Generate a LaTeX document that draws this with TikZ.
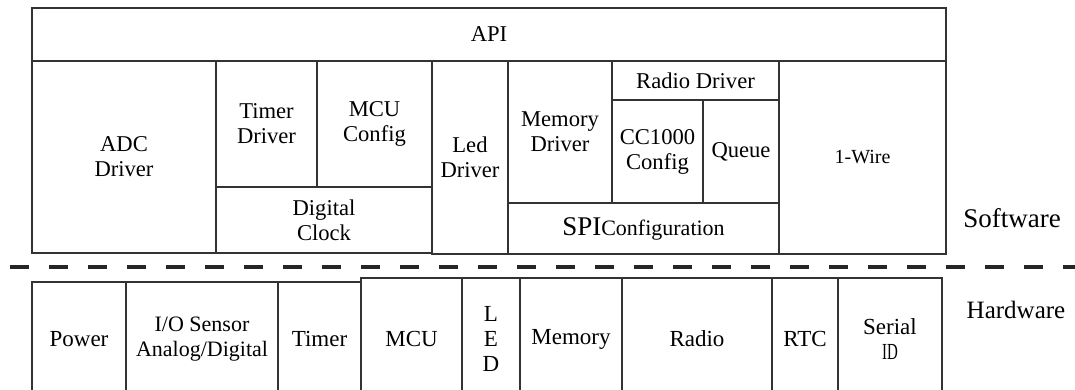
\documentclass[tikz,border=0pt]{standalone}
\usepackage{fontspec}
\setmainfont{Liberation Serif}
\usepackage{graphicx}

\tikzset{
  blk/.style={draw=black!80, line width=0.6pt, align=center, inner sep=0pt,
    font=\fontsize{11.3}{12.5}\selectfont},
  hwblk/.style={blk, font=\fontsize{11.5}{12.5}\selectfont},
  layer/.style={font=\fontsize{13.5}{14}\selectfont},
}

\begin{document}
\begin{tikzpicture}[x=0.5pt, y=-0.5pt]
\useasboundingbox (0,0) rectangle (1075,390);
\clip (0,0) rectangle (1075,390);

% software
\node[blk, minimum width=457pt, minimum height=26.5pt] (api) at (489,34.5) {API};
\node[blk, minimum width=92pt, minimum height=96pt] (adc) at (124,157) {ADC\\Driver};
\node[blk, minimum width=50.5pt, minimum height=63pt] (timerdrv) at (266.5,124) {Timer\\Driver};
\node[blk, minimum width=57.5pt, minimum height=63pt] (mcucfg) at (374.5,124) {MCU\\Config};
\node[blk, minimum width=108pt, minimum height=33pt] (dclock) at (324,220) {Digital\\Clock};
\node[blk, minimum width=38pt, minimum height=96.5pt] (leddrv) at (470,157.5) {Led\\Driver};
\node[blk, minimum width=52pt, minimum height=71pt] (memdrv) at (560,132) {Memory\\Driver};
\node[blk, minimum width=83.5pt, minimum height=19.5pt] (radiodrv) at (695.5,80.5) {Radio Driver};
\node[blk, minimum width=45.5pt, minimum height=51.5pt] (cc) at (657.5,151.5) {CC1000\\Config};
\node[blk, minimum width=38pt, minimum height=51.5pt] (queue) at (741,151.5) {Queue};
\node[blk, font=\fontsize{11}{12.5}\selectfont, minimum width=135.5pt, minimum height=25.5pt] (spi) at (643.5,228.5)
  {{\fontsize{13.5}{14}\selectfont SPI}Configuration};
\node[blk, font=\fontsize{10}{12}\selectfont, minimum width=83.5pt, minimum height=96.5pt] (onewire) at (862.5,157.5) {1-Wire};

\node[layer] (sw) at (1012,218) {Software};

% separator
\coordinate (sepL) at (10,267);
\coordinate (sepR) at (1075,267);
\draw[line width=1.7pt, black!85, dash pattern=on 9.3pt off 10.2pt] (sepL) -- (sepR);

% hardware
\node[hwblk, minimum width=47pt, minimum height=57pt] (power) at (79,339) {Power};
\node[hwblk, font=\fontsize{11}{12.5}\selectfont, minimum width=76pt, minimum height=57pt] (iosens) at (202,339) {I/O Sensor\\Analog/Digital};
\node[hwblk, minimum width=41.5pt, minimum height=57pt] (timer) at (319.5,339) {Timer};
\node[hwblk, minimum width=50.5pt, minimum height=61pt] (mcu) at (411.5,339) {MCU};
\node[hwblk, minimum width=29pt, minimum height=61pt] (led) at (491,339) {L\\E\\D};
\node[hwblk, minimum width=51pt, minimum height=61pt] (memory) at (571,339) {Memory};
\node[hwblk, minimum width=75pt, minimum height=61pt] (radio) at (697,339) {Radio};
\node[hwblk, minimum width=33pt, minimum height=61pt] (rtc) at (805,339) {RTC};
\node[hwblk, minimum width=52pt, minimum height=61pt] (serial) at (890,339) {Serial\\\scalebox{0.65}[1]{ID}};

\node[layer, font=\fontsize{12.5}{14}\selectfont] (hw) at (1016,310) {Hardware};
\end{tikzpicture}
\end{document}
